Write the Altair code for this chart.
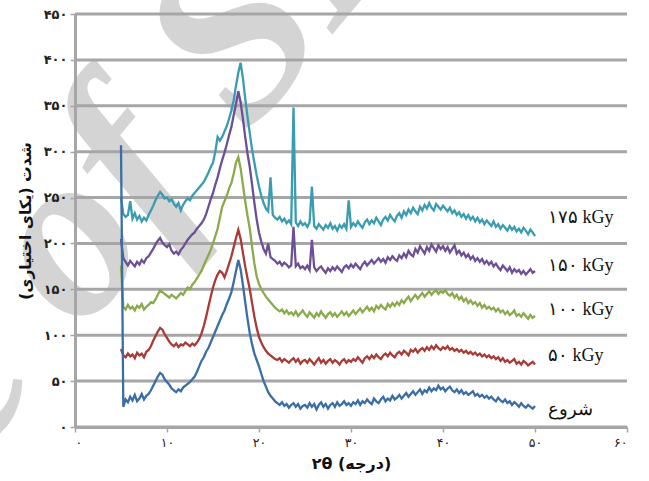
import altair as alt
import pandas as pd

FA = str.maketrans("0123456789", "۰۱۲۳۴۵۶۷۸۹")

def fa(n):
    return str(n).translate(FA)

x_ticks = [0, 10, 20, 30, 40, 50, 60]
y_ticks = [0, 50, 100, 150, 200, 250, 300, 350, 400, 450]

theta_start = 5.0
theta_step = 0.25

series_names = ["شروع", "۵۰ kGy", "۱۰۰ kGy", "۱۵۰ kGy", "۱۷۵ kGy"]
series_colors = ["#3B6EA5", "#A83B37", "#8BAA4B", "#6D4F95", "#3A9CB1"]
label_y = [18.5, 77, 127.5, 175, 228]
label_x = 51.4

s_0 = [
    307, 22, 30, 27, 33, 29, 35, 28, 31, 36, 30, 34, 36, 40, 45, 50, 55, 59, 57, 52,
    49, 46, 42, 40, 38, 41, 39, 43, 45, 47, 49, 52, 55, 60, 66, 72, 76, 82, 86, 92,
    98, 104, 110, 116, 122, 127, 134, 140, 147, 158, 170, 182, 172, 155, 136, 118, 102, 90, 80, 73,
    66, 58, 50, 44, 38, 34, 31, 28, 26, 24, 27, 23, 25, 21, 24, 26, 22, 25, 20, 23,
    24, 21, 26, 22, 25, 19, 24, 27, 22, 25, 20, 24, 26, 22, 27, 23, 25, 28, 24, 26,
    23, 27, 25, 29, 24, 28, 26, 30, 27, 25, 31, 28, 26, 30, 33, 28, 31, 29, 34, 30,
    32, 35, 31, 34, 37, 33, 36, 39, 35, 38, 41, 36, 40, 38, 43, 39, 42, 40, 45, 41,
    43, 39, 42, 44, 40, 38, 41, 37, 40, 36, 38, 35, 37, 39, 34, 36, 33, 35, 32, 34,
    31, 33, 30, 28, 32, 29, 27, 30, 26, 28, 24, 27, 25, 22, 26, 23, 21, 24, 22, 20,
    23,
]
s_50 = [
    85, 78, 76, 80, 77, 79, 75, 81, 78, 80, 76, 82, 84, 88, 94, 99, 104, 108, 106, 101,
    97, 93, 90, 88, 91, 87, 90, 89, 92, 90, 88, 91, 89, 92, 96, 102, 110, 120, 131, 142,
    152, 160, 166, 170, 168, 163, 170, 178, 186, 196, 206, 215, 205, 190, 175, 162, 150, 135, 120, 108,
    98, 92, 87, 83, 80, 78, 76, 74, 73, 75, 71, 74, 72, 70, 73, 75, 71, 74, 69, 72,
    73, 70, 74, 71, 68, 72, 75, 70, 73, 69, 72, 74, 70, 73, 71, 68, 72, 74, 70, 73,
    71, 74, 72, 76, 73, 70, 75, 77, 74, 78, 75, 79, 76, 74, 78, 80, 77, 81, 78, 76,
    80, 82, 79, 83, 81, 78, 84, 82, 85, 81, 84, 86, 83, 87, 84, 88, 85, 89, 86, 84,
    87, 85, 88, 84, 86, 83, 85, 82, 84, 81, 83, 80, 82, 79, 81, 78, 80, 77, 79, 76,
    78, 75, 77, 74, 76, 72, 75, 71, 73, 70, 72, 74, 69, 71, 68, 72, 70, 67, 69, 71,
    68,
]
s_100 = [
    176, 131, 128, 133, 129, 131, 127, 132, 130, 134, 128, 131, 133, 136, 135, 139, 144, 149, 147, 145,
    143, 141, 144, 142, 140, 143, 146, 144, 148, 152, 150, 155, 158, 162, 166, 170, 176, 182, 187, 193,
    200, 208, 216, 228, 240, 246, 252, 260, 266, 276, 288, 294, 282, 264, 246, 230, 216, 196, 178, 164,
    156, 150, 146, 142, 139, 136, 133, 130, 128, 126, 128, 124, 127, 123, 125, 122, 126, 121, 124, 127,
    123, 120, 125, 122, 119, 124, 121, 126, 122, 119, 123, 125, 121, 124, 120, 123, 126, 122, 125, 121,
    124, 127, 123, 126, 129, 125, 128, 131, 127, 130, 126, 132, 129, 133, 130, 128, 134, 131, 135, 132,
    136, 133, 138, 135, 139, 142, 137, 141, 144, 140, 143, 146, 142, 145, 148, 144, 147, 149, 145, 148,
    146, 149, 145, 143, 146, 141, 144, 139, 142, 137, 140, 135, 138, 134, 136, 132, 135, 130, 133, 129,
    131, 128, 130, 126, 129, 125, 127, 123, 126, 122, 124, 127, 121, 123, 120, 124, 121, 118, 122, 119,
    121,
]
s_150 = [
    205, 184, 180, 176, 181, 178, 175, 180, 177, 182, 179, 184, 186, 190, 194, 199, 203, 206, 201, 198,
    196, 199, 192, 189, 191, 188, 193, 196, 200, 204, 207, 210, 212, 216, 219, 222, 226, 232, 240, 248,
    255, 264, 272, 282, 291, 299, 308, 318, 327, 340, 352, 366, 354, 336, 316, 298, 283, 264, 244, 226,
    212, 202, 194, 189, 200, 185, 183, 181, 178, 180, 176, 179, 177, 174, 176, 218, 175, 178, 173, 175,
    172, 176, 171, 204, 174, 170, 173, 175, 171, 168, 173, 170, 174, 171, 175, 172, 169, 174, 176, 173,
    177, 174, 178, 175, 172, 177, 180, 176, 179, 182, 178, 181, 184, 180, 183, 179, 185, 182, 186, 183,
    181, 187, 184, 189, 185, 192, 188, 186, 194, 190, 197, 193, 189, 196, 192, 199, 195, 191, 198, 194,
    197, 192, 196, 190, 194, 198, 189, 192, 187, 190, 185, 188, 183, 186, 181, 184, 180, 183, 178, 181,
    177, 180, 175, 178, 174, 171, 176, 173, 170, 174, 168, 172, 169, 171, 167, 170, 166, 169, 172, 168,
    170,
]
s_175 = [
    250, 232, 229, 231, 246, 227, 233, 226, 230, 224, 228, 225, 231, 236, 241, 247, 252, 256, 253, 249,
    250, 246, 248, 243, 240, 244, 236, 242, 246, 249, 247, 252, 255, 258, 261, 264, 267, 272, 277, 283,
    288, 300, 316, 312, 316, 322, 328, 336, 345, 356, 372, 386, 397, 380, 358, 338, 320, 302, 288, 274,
    262, 252, 244, 238, 235, 272, 231, 228, 226, 229, 224, 227, 222, 225, 221, 348, 223, 219, 224, 220,
    222, 218, 223, 262, 219, 216, 221, 218, 215, 220, 217, 222, 216, 219, 214, 220, 217, 221, 216, 247,
    218, 222, 219, 224, 220, 217, 223, 226, 221, 225, 222, 228, 224, 220, 226, 229, 225, 231, 227, 224,
    230, 233, 228, 235, 231, 237, 233, 239, 235, 232, 240, 236, 242, 238, 244, 239, 236, 243, 240, 237,
    241, 238, 235, 239, 233, 236, 231, 234, 229, 232, 227, 231, 226, 229, 224, 228, 223, 226, 221, 225,
    222, 219, 224, 218, 221, 216, 220, 217, 214, 219, 215, 218, 213, 216, 212, 217, 214, 210, 215, 212,
    208,
]
series_values = [s_0, s_50, s_100, s_150, s_175]

watermark_text = "Archive of SID"
watermark_at = (-5.4, 29)

# ---------- scales & axes ----------
xscale = alt.Scale(domain=[0, 60], nice=False, zero=False)
yscale = alt.Scale(domain=[0, 450], nice=False, zero=False)

def expr_map(ticks):
    parts = [f"datum.value == {t} ? '{fa(t)}'" for t in ticks]
    return " : ".join(parts) + " : ''"

AX_GRAY = "#a6a6a6"
x_axis = alt.Axis(
    values=x_ticks, labelExpr=expr_map(x_ticks), title="۲θ (درجه)",
    grid=False, domainColor=AX_GRAY, domainWidth=3, tickColor=AX_GRAY,
    tickWidth=1.5, tickSize=5, labelFont="DejaVu Sans", labelFontSize=12.5,
    labelColor="#222222", labelPadding=4, titleFont="DejaVu Sans",
    titleFontSize=16, titleFontWeight="bold", titleColor="#111111",
    titlePadding=7, zindex=1,
)
y_axis = alt.Axis(
    values=y_ticks, labelExpr=expr_map(y_ticks),
    title="شدت (یکای اختیاری)\u200f",
    grid=False, domainColor=AX_GRAY, domainWidth=3, tickColor=AX_GRAY,
    tickWidth=1.5, tickSize=5, labelFont="DejaVu Sans", labelFontSize=13,
    labelFontWeight="bold", labelColor="#222222", labelPadding=3,
    titleFont="DejaVu Sans", titleFontSize=15.5, titleFontWeight="bold",
    titleColor="#111111", titlePadding=10, zindex=1,
)

def X(field):
    return alt.X(field, scale=xscale, axis=x_axis)

def Y(field):
    return alt.Y(field, scale=yscale, axis=y_axis)

# ---------- layers ----------
wm = alt.Chart(pd.DataFrame({"x": [watermark_at[0]], "y": [watermark_at[1]],
                             "t": [watermark_text]})).mark_text(
    angle=310, align="center", baseline="alphabetic", fontSize=240,
    font="Liberation Serif", fontWeight="bold", fontStyle="italic",
    color="#d4d4d4",
).encode(x=X("x:Q"), y=Y("y:Q"), text="t:N")

grid = alt.Chart(pd.DataFrame({"v": y_ticks})).mark_rule(
    color=AX_GRAY, strokeWidth=3
).encode(y=Y("v:Q"))

line_layers = []
for name, color, vals in reversed(list(zip(series_names, series_colors, series_values))):
    df = pd.DataFrame({
        "theta": [theta_start + theta_step * i for i in range(len(vals))],
        "val": vals,
    })
    line_layers.append(
        alt.Chart(df).mark_line(color=color, strokeWidth=2.3).encode(
            x=X("theta:Q"), y=Y("val:Q")
        )
    )

lab_df = pd.DataFrame({
    "x": [label_x] * len(series_names),
    "y": label_y,
    "t": series_names,
})
labels = alt.Chart(lab_df).mark_text(
    align="left", baseline="middle", font="Liberation Serif", fontSize=18,
    color="#111111",
).encode(x=X("x:Q"), y=Y("y:Q"), text="t:N")

chart = alt.layer(wm, grid, *line_layers, labels).properties(
    width=552, height=413,
    autosize=alt.AutoSizeParams(type="none"),
    padding={"left": 75, "top": 14, "right": 22, "bottom": 54},
    background="white",
).configure_view(stroke=None)

chart.save("out.html", embed_options={"renderer": "svg", "actions": False})
